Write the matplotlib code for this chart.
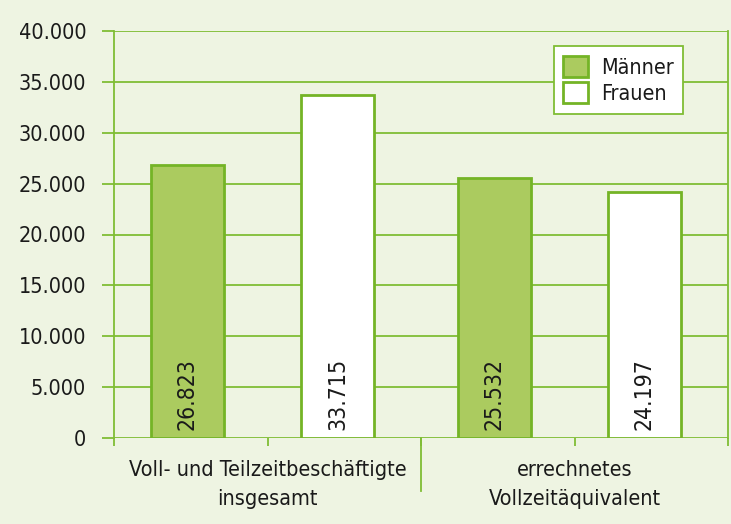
import matplotlib
matplotlib.use("Agg")
import matplotlib.pyplot as plt
from matplotlib import font_manager
import numpy as np

categories = ["Voll- und Teilzeitbeschäftigte\ninsgesamt", "errechnetes\nVollzeitäquivalent"]
series_names = ["Männer", "Frauen"]
maenner = [26823, 25532]
frauen = [33715, 24197]
value_labels_m = ["26.823", "25.532"]
value_labels_f = ["33.715", "24.197"]
y_ticks = [0, 5000, 10000, 15000, 20000, 25000, 30000, 35000, 40000]
y_tick_labels = ["0", "5.000", "10.000", "15.000", "20.000", "25.000", "30.000", "35.000", "40.000"]

avail = {f.name for f in font_manager.fontManager.ttflist}
fam = [f for f in ["Liberation Sans Narrow", "DejaVu Sans Condensed", "DejaVu Sans"] if f in avail]
plt.rcParams["font.family"] = fam
if "DejaVu Sans Condensed" not in avail and "Liberation Sans Narrow" not in avail:
    plt.rcParams["font.stretch"] = "condensed"

BG = "#eef4e2"
GRID = "#80bd35"
FILL = "#abcb5f"
EDGE = "#74b426"
TXT = "#1a1a1a"
FS = 15.5

fig = plt.figure(figsize=(7.31, 5.24), dpi=100, facecolor=BG)
ax = fig.add_axes([114 / 731, 1 - 438 / 524, (728 - 114) / 731, (438 - 31) / 524])
ax.set_facecolor(BG)

x = np.arange(len(categories))
off_m = -0.262
off_f = 0.228
w = 0.238
bm = ax.bar(x + off_m, maenner, w, color=FILL, edgecolor=EDGE, linewidth=2.0, label=series_names[0], zorder=3)
bf = ax.bar(x + off_f, frauen, w, color="white", edgecolor=EDGE, linewidth=2.0, label=series_names[1], zorder=3)

for rect, lab in list(zip(bm, value_labels_m)) + list(zip(bf, value_labels_f)):
    ax.annotate(lab, (rect.get_x() + rect.get_width() / 2, 0), xytext=(0, 5.5),
                textcoords="offset points", rotation=90, ha="center", va="bottom",
                fontsize=16.5, color=TXT, zorder=4)

ax.set_ylim(0, 40000)
ax.set_xlim(-0.5, 1.5)
ax.set_yticks(y_ticks)
ax.set_yticklabels(y_tick_labels)
ax.yaxis.grid(True, color=GRID, linewidth=1.3, zorder=1)
ax.set_axisbelow(True)
ax.tick_params(axis="y", length=9, width=1.3, color=GRID, pad=11, labelsize=FS, labelcolor=TXT)

ax.set_xticks([-0.5, 0.5, 1.5])
ax.set_xticklabels(["", "", ""])
ax.set_xticks(x, minor=True)
ax.set_xticklabels(categories, minor=True)
ax.tick_params(axis="x", which="major", length=6, width=1.3, color=GRID)
ax.tick_params(axis="x", which="minor", length=6, width=1.3, color=GRID, pad=10,
               labelsize=FS, labelcolor=TXT)
for lbl in ax.get_xticklabels(minor=True):
    lbl.set_linespacing(1.55)

for s in ["left", "right"]:
    ax.spines[s].set_color(GRID)
    ax.spines[s].set_linewidth(1.3)
for s in ["top", "bottom"]:
    ax.spines[s].set_visible(False)

# category separator line extending below the axis
ax.plot([0.5, 0.5], [0, -0.13], transform=ax.get_xaxis_transform(), color=GRID,
        linewidth=1.3, clip_on=False)

leg = ax.legend(loc="upper left", bbox_to_anchor=(0.716, 0.963), fontsize=FS,
                frameon=True, fancybox=False, edgecolor=GRID, facecolor="white",
                framealpha=1, handlelength=1.15, handleheight=1.15, handletextpad=0.6,
                borderpad=0.45, labelspacing=0.2, borderaxespad=0)
leg.get_frame().set_linewidth(1.3)
for t in leg.get_texts():
    t.set_color(TXT)

fig.savefig("out.png", dpi=100, facecolor=BG)
